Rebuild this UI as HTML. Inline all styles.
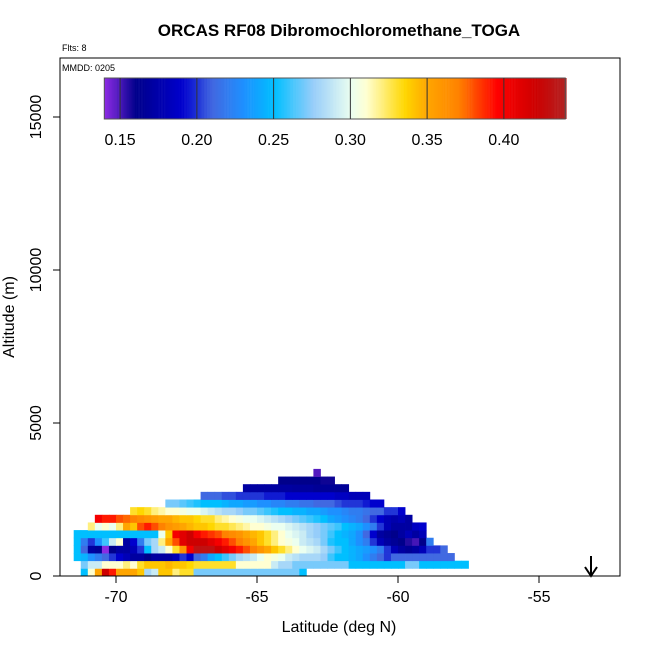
<!DOCTYPE html>
<html><head><meta charset="utf-8"><style>
html,body{margin:0;padding:0;background:#fff}
svg{display:block;font-family:"Liberation Sans",Arial,sans-serif}
</style></head><body>
<svg id="chart" width="650" height="650" viewBox="0 0 650 650">
<text x="339" y="36" text-anchor="middle" font-size="17" font-weight="bold">ORCAS RF08 Dibromochloromethane_TOGA</text>
<text x="62" y="51" font-size="9">Flts: 8</text>
<g id="cells"></g>
<rect x="60" y="58" width="560" height="518" fill="none" stroke="#000" stroke-width="1"/>
<text x="62" y="71" font-size="9">MMDD: 0205</text>
<g id="cbar"></g>
<g id="axes"></g>
<text x="339" y="632" text-anchor="middle" font-size="16">Latitude (deg N)</text>
<text transform="translate(14,317) rotate(-90)" text-anchor="middle" font-size="16">Altitude (m)</text>
<g><line x1="591" y1="556" x2="591" y2="575" stroke="#000" stroke-width="2"/><path d="M585,567 L591,576 L597,567" fill="none" stroke="#000" stroke-width="2"/></g>
</svg>
<script>
// data: altitude bins of 250 m, latitude bins of 0.25 deg starting at -71.5
const latStart = -71.5, latStep = 0.25, altStep = 250;
const rowStartCols = [1,1,0,0,0,0,2,3,8,13,18,24,29,34];
const row0 = [0.25,0.31,0.35,0.42,0.39,0.35,0.35,0.35,0.34,0.28,0.29,0.34,0.34,0.32,0.33,0.33,0.27,0.27,0.27,0.27,0.27,0.27,0.27,0.27,0.27,0.27,0.27,0.27,0.27,0.27,0.27,0.25];
const row1 = [0.27,0.29,0.29,0.31,0.31,0.31,0.32,0.31,0.33,0.34,0.34,0.34,0.345,0.34,0.34,0.335,0.33,0.33,0.33,0.33,0.33,0.33,0.31,0.31,0.31,0.31,0.31,0.29,0.28,0.28,0.27,0.27,0.27,0.27,0.27,0.27,0.27,0.27,0.25,0.25,0.25,0.25,0.25,0.25,0.25,0.25,0.27,0.27,0.25,0.25,0.25,0.25,0.25,0.25,0.25];
const row2 = [0.25,0.245,0.23,0.22,0.21,0.20,0.19,0.18,0.17,0.17,0.16,0.17,0.17,0.17,0.18,0.20,0.19,0.21,0.22,0.24,0.25,0.26,0.27,0.28,0.285,0.29,0.30,0.31,0.305,0.30,0.29,0.285,0.28,0.28,0.28,0.275,0.26,0.25,0.25,0.245,0.24,0.23,0.22,0.21,0.20,0.21,0.21,0.21,0.21,0.21,0.21,0.21,0.21,0.21];
const row3 = [0.25,0.21,0.17,0.165,0.14,0.16,0.17,0.17,0.18,0.20,0.25,0.28,0.29,0.31,0.33,0.36,0.40,0.43,0.43,0.43,0.42,0.41,0.40,0.39,0.38,0.37,0.36,0.35,0.34,0.33,0.32,0.31,0.30,0.295,0.29,0.28,0.27,0.26,0.25,0.245,0.24,0.235,0.23,0.22,0.20,0.18,0.17,0.165,0.17,0.18,0.20,0.20,0.21];
const row4 = [0.25,0.22,0.20,0.23,0.26,0.29,0.31,0.17,0.19,0.22,0.27,0.28,0.32,0.35,0.38,0.41,0.42,0.42,0.42,0.41,0.40,0.39,0.38,0.37,0.36,0.35,0.34,0.33,0.32,0.31,0.305,0.30,0.29,0.285,0.28,0.27,0.255,0.25,0.25,0.24,0.23,0.22,0.20,0.18,0.17,0.165,0.16,0.155,0.15,0.16,0.22];
const row5 = [0.25,0.25,0.25,0.25,0.25,0.25,0.25,0.25,0.25,0.25,0.25,0.25,0.30,0.34,0.40,0.41,0.42,0.40,0.39,0.385,0.38,0.37,0.365,0.36,0.35,0.345,0.34,0.33,0.32,0.31,0.30,0.295,0.29,0.28,0.275,0.27,0.26,0.25,0.245,0.24,0.23,0.21,0.19,0.17,0.165,0.16,0.17,0.18,0.17,0.18];
const row6 = [0.32,0.30,0.31,0.30,0.32,0.35,0.34,0.38,0.39,0.38,0.37,0.36,0.355,0.35,0.345,0.34,0.34,0.335,0.33,0.33,0.325,0.32,0.315,0.31,0.31,0.305,0.30,0.30,0.295,0.29,0.285,0.28,0.275,0.27,0.265,0.26,0.25,0.245,0.24,0.23,0.22,0.20,0.18,0.17,0.17,0.17,0.185,0.19];
const row7 = [0.40,0.39,0.39,0.38,0.375,0.37,0.365,0.36,0.355,0.35,0.35,0.345,0.34,0.34,0.335,0.33,0.33,0.32,0.315,0.31,0.305,0.30,0.30,0.295,0.29,0.285,0.28,0.275,0.27,0.265,0.26,0.255,0.25,0.24,0.235,0.23,0.225,0.22,0.21,0.20,0.19,0.18,0.175,0.18,0.17];
const row8 = [0.33,0.335,0.33,0.32,0.315,0.31,0.31,0.305,0.30,0.30,0.295,0.29,0.285,0.28,0.28,0.275,0.27,0.27,0.265,0.26,0.255,0.25,0.25,0.245,0.245,0.24,0.24,0.235,0.23,0.23,0.225,0.22,0.22,0.215,0.21,0.21,0.20,0.20,0.19];
const row9 = [0.27,0.27,0.265,0.26,0.255,0.25,0.25,0.25,0.245,0.24,0.24,0.235,0.235,0.23,0.23,0.225,0.225,0.22,0.22,0.215,0.215,0.21,0.21,0.21,0.205,0.20,0.20,0.20,0.195,0.19,0.19];
const row10 = [0.21,0.21,0.21,0.205,0.205,0.20,0.20,0.20,0.20,0.195,0.195,0.195,0.19,0.19,0.19,0.19,0.19,0.19,0.19,0.185,0.185,0.18,0.18,0.18];
const row11 = [0.17,0.17,0.17,0.17,0.17,0.17,0.17,0.168,0.168,0.168,0.165,0.165,0.165,0.165,0.165];
const row12 = [0.16,0.16,0.16,0.16,0.16,0.16,0.158,0.158];
const row13 = [0.148];
const rows = [row0,row1,row2,row3,row4,row5,row6,row7,row8,row9,row10,row11,row12,row13];
const xTicks = [-70,-65,-60,-55];
const yTicks = [0,5000,10000,15000];
const cbTicks = [0.15,0.20,0.25,0.30,0.35,0.40];

const NS='http://www.w3.org/2000/svg';
const xs = v => 116 + (v + 70) * 28.2;
const ys = v => 576 - v * 0.0306;
const cb = v => 104.3 + (v - 0.1397) * 1535;
const stops = [[0.14,[138,43,226]],[0.16,[0,0,139]],[0.19,[0,0,205]],[0.21,[65,105,225]],[0.23,[30,144,255]],[0.25,[0,191,255]],[0.275,[150,205,250]],[0.30,[235,255,240]],[0.31,[255,255,210]],[0.335,[255,215,0]],[0.35,[255,165,0]],[0.37,[255,130,0]],[0.395,[255,0,0]],[0.42,[205,0,0]],[0.44,[178,34,34]]];
function col(v){
  if(v<=stops[0][0]) return 'rgb('+stops[0][1]+')';
  for(let i=1;i<stops.length;i++){
    if(v<=stops[i][0]){const a=stops[i-1],b=stops[i],t=(v-a[0])/(b[0]-a[0]);
      return 'rgb('+a[1].map((c,k)=>Math.round(c+(b[1][k]-c)*t)).join(',')+')';}
  }
  return 'rgb('+stops[stops.length-1][1]+')';
}
function mk(tag,attrs,parent){const e=document.createElementNS(NS,tag);for(const k in attrs)e.setAttribute(k,attrs[k]);parent.appendChild(e);return e;}
const cells=document.getElementById('cells');
rows.forEach((r,ri)=>{
  r.forEach((v,j)=>{
    const lat=latStart+(rowStartCols[ri]+j)*latStep;
    const x0=xs(lat),x1=xs(lat+latStep),y0=ys((ri+1)*altStep),y1=ys(ri*altStep);
    const e=mk('rect',{x:x0.toFixed(2),y:y0.toFixed(2),width:(x1-x0+0.4).toFixed(2),height:(y1-y0+0.4).toFixed(2),fill:col(v)},cells);
    
    
  });
});
// colorbar
const cbar=document.getElementById('cbar');
for(let v=0.1397;v<0.44;v+=0.001){
  const e=mk('rect',{x:cb(v).toFixed(2),y:78,width:1.8,height:41,fill:col(v)},cbar);
  
  
}
mk('rect',{x:104.3,y:78,width:cb(0.44)-104.3,height:41,fill:'none',stroke:'#555','stroke-width':1},cbar);
cbTicks.forEach(t=>{
  const l=mk('line',{x1:cb(t),x2:cb(t),y1:78,y2:119,stroke:'#333','stroke-width':1},cbar);
  
  
  const tx=mk('text',{x:cb(t),y:145,'text-anchor':'middle','font-size':16},cbar);
  tx.textContent=t.toFixed(2);
  
  
});
const axes=document.getElementById('axes');
xTicks.forEach(t=>{
  const l=mk('line',{x1:xs(t),x2:xs(t),y1:576,y2:583,stroke:'#000'},axes);
  
  
  const tx=mk('text',{x:xs(t),y:602,'text-anchor':'middle','font-size':16},axes);
  tx.textContent=t;
  
  
});
yTicks.forEach(t=>{
  const l=mk('line',{x1:53,x2:60,y1:ys(t),y2:ys(t),stroke:'#000'},axes);
  
  
  const tx=mk('text',{transform:'translate(41,'+ys(t)+') rotate(-90)','text-anchor':'middle','font-size':16},axes);
  tx.textContent=t;
  
  
});
</script>
</body></html>
